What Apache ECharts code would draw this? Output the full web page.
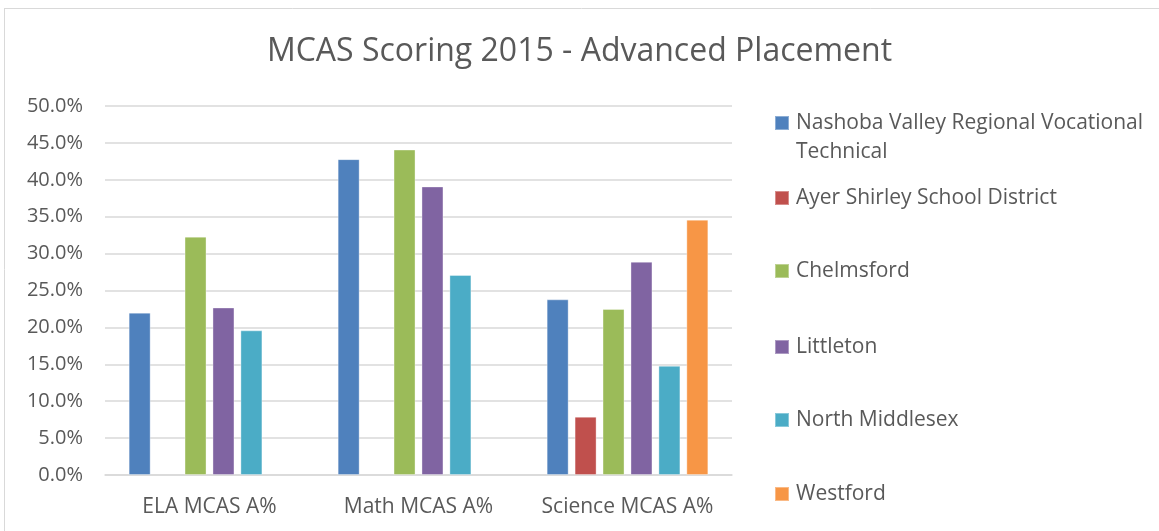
<!DOCTYPE html>
<html lang="en">
<head>
    <meta charset="UTF-8">
    <title>MCAS Scoring 2015 - Advanced Placement</title>
</head>
<script src="https://cdn.jsdelivr.net/npm/echarts@6/dist/echarts.min.js"></script>
<body style="margin:0">
    <div id="echarts" style="height: 531px;width:1159px"></div>
</body>
<script>
    // categories + values in percent
    const categories = ['ELA MCAS A%', 'Math MCAS A%', 'Science MCAS A%'];
    const nashoba = [22.0, 42.8, 23.8];
    const ayerShirley = [null, null, 7.9];
    const chelmsford = [32.3, 44.1, 22.5];
    const littleton = [22.7, 39.1, 28.9];
    const northMiddlesex = [19.6, 27.1, 14.8];
    const westford = [null, null, 34.6];
    const yTicks = [0, 5, 10, 15, 20, 25, 30, 35, 40, 45, 50];

    const seriesList = [
      { name: 'Nashoba Valley Regional Vocational Technical', data: nashoba, color: '#4F81BD' },
      { name: 'Ayer Shirley School District', data: ayerShirley, color: '#C0504D' },
      { name: 'Chelmsford', data: chelmsford, color: '#9BBB59' },
      { name: 'Littleton', data: littleton, color: '#8064A2' },
      { name: 'North Middlesex', data: northMiddlesex, color: '#4BACC6' },
      { name: 'Westford', data: westford, color: '#F79646' },
    ];

    const textColor = '#595959';
    const font = 'Open Sans, Noto Sans, sans-serif';
    // legend rows are not evenly spaced in the original, so one legend per row
    const legendTops = [79.5, 183.5, 256.5, 332.5, 405.5, 479.5];
    const longName = 'Nashoba Valley Regional Vocational Technical';

    let myChart = window.echarts.init(document.getElementById('echarts'));

    let option = {
      animation: false,
      title: {
        text: 'MCAS Scoring 2015 - Advanced Placement',
        left: 'center',
        top: 31,
        textStyle: { color: textColor, fontSize: 32, fontWeight: 'normal', fontFamily: font },
      },
      grid: { left: 105, right: 427, top: 106, bottom: 56 },
      legend: seriesList.map((s, i) => ({
        data: [s.name],
        orient: 'vertical',
        left: 774,
        top: legendTops[i],
        padding: 0,
        icon: 'rect',
        itemWidth: 14,
        itemHeight: 14,
        itemGap: 0,
        textStyle: { color: textColor, fontSize: 21, fontFamily: font, lineHeight: 29, padding: [0, 0, 0, 2] },
        // blank first line keeps the marker level with "Nashoba ..." when it wraps
        formatter: name => name === longName ? '\nNashoba Valley Regional Vocational\nTechnical' : name,
        selectedMode: false,
      })),
      graphic: [
        { type: 'line', shape: { x1: 4.5, y1: 8, x2: 4.5, y2: 531 }, style: { stroke: '#d9d9d9', lineWidth: 1 } },
        { type: 'line', shape: { x1: 4, y1: 8.5, x2: 1159, y2: 8.5 }, style: { stroke: '#d9d9d9', lineWidth: 1 } },
      ],
      xAxis: {
        type: 'category',
        data: categories,
        axisTick: { show: false },
        axisLine: { lineStyle: { color: '#d9d9d9', width: 1.5 } },
        axisLabel: { color: textColor, fontSize: 21, fontFamily: font, margin: 22, interval: 0 },
      },
      yAxis: {
        type: 'value',
        min: yTicks[0],
        max: yTicks[yTicks.length - 1],
        interval: 5,
        axisLine: { show: false },
        axisTick: { show: false },
        splitLine: { lineStyle: { color: '#d9d9d9', width: 1.5 } },
        axisLabel: {
          color: textColor, fontSize: 20, fontFamily: font, margin: 22,
          formatter: v => v.toFixed(1) + '%',
        },
      },
      series: seriesList.map(s => ({
        name: s.name,
        type: 'bar',
        data: s.data,
        barWidth: 22,
        barGap: '27%',
        itemStyle: { color: s.color, borderColor: 'rgba(255,255,255,0.35)', borderWidth: 1 },
      })),
    };
    myChart.setOption(option);
</script>
</html>
